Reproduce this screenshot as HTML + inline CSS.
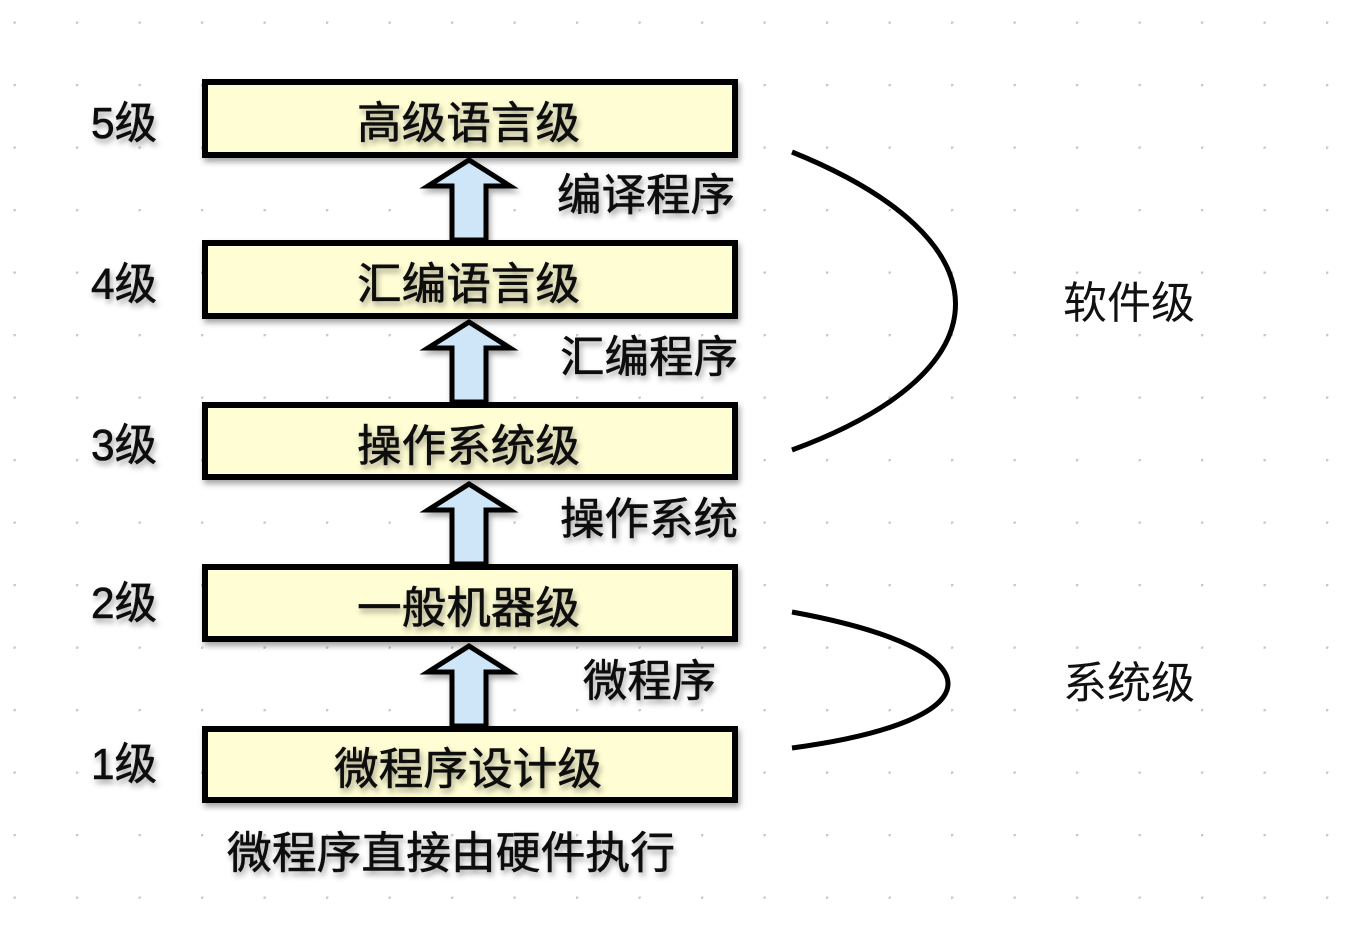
<!DOCTYPE html>
<html><head><meta charset="utf-8"><style>
html,body{margin:0;padding:0;background:#fff;}
svg{display:block;}
text{font-family:"Liberation Sans","Noto Sans CJK SC",sans-serif;}
</style></head><body>
<svg width="1350" height="946" viewBox="0 0 1350 946" xmlns="http://www.w3.org/2000/svg">
<defs>
<pattern id="dots" x="14" y="22" width="62.5" height="62.5" patternUnits="userSpaceOnUse">
<circle cx="0.5" cy="0.5" r="2" fill="#c8c8c8"/>
</pattern>
<filter id="sh" x="-10%" y="-20%" width="130%" height="160%">
<feDropShadow dx="2" dy="4" stdDeviation="3" flood-color="#000" flood-opacity="0.35"/>
</filter>
<g id="arrow">
<path d="M-17,0 L-17,-54 L-41,-54 L0,-80 L41,-54 L17,-54 L17,0 Z" fill="#cfe6f8" stroke="#000" stroke-width="5" stroke-linejoin="miter"/>
</g>
</defs>
<rect x="0" y="0" width="1350" height="946" fill="url(#dots)" transform="translate(-0.5,-0.5)"/>

<g filter="url(#sh)">
<use href="#arrow" x="469" y="240"/>
<use href="#arrow" x="469" y="402"/>
<use href="#arrow" x="469" y="564"/>
<use href="#arrow" x="469" y="726"/>
</g>

<g filter="url(#sh)" fill="#fffdd3" stroke="#000" stroke-width="6">
<rect x="205" y="82" width="530" height="73"/>
<rect x="205" y="243" width="530" height="73"/>
<rect x="205" y="405" width="530" height="72"/>
<rect x="205" y="567" width="530" height="72"/>
<rect x="205" y="729" width="530" height="71"/>
</g>

<g filter="url(#sh)" font-size="44" fill="#111" stroke="#111" stroke-width="0.6">
<text x="357" y="138" textLength="223" lengthAdjust="spacingAndGlyphs">高级语言级</text>
<text x="357" y="299" textLength="223" lengthAdjust="spacingAndGlyphs">汇编语言级</text>
<text x="357" y="461" textLength="223" lengthAdjust="spacingAndGlyphs">操作系统级</text>
<text x="357" y="623" textLength="223" lengthAdjust="spacingAndGlyphs">一般机器级</text>
<text x="334" y="784" textLength="268" lengthAdjust="spacingAndGlyphs">微程序设计级</text>
<text x="91" y="138" textLength="66" lengthAdjust="spacingAndGlyphs">5级</text>
<text x="91" y="299" textLength="66" lengthAdjust="spacingAndGlyphs">4级</text>
<text x="91" y="460" textLength="66" lengthAdjust="spacingAndGlyphs">3级</text>
<text x="91" y="618" textLength="66" lengthAdjust="spacingAndGlyphs">2级</text>
<text x="91" y="779" textLength="66" lengthAdjust="spacingAndGlyphs">1级</text>
<text x="557" y="210" textLength="178" lengthAdjust="spacingAndGlyphs">编译程序</text>
<text x="560" y="372" textLength="178" lengthAdjust="spacingAndGlyphs">汇编程序</text>
<text x="560" y="534" textLength="178" lengthAdjust="spacingAndGlyphs">操作系统</text>
<text x="583" y="696" textLength="133" lengthAdjust="spacingAndGlyphs">微程序</text>
<text x="227" y="868" textLength="448" lengthAdjust="spacingAndGlyphs">微程序直接由硬件执行</text>
</g>

<path d="M792,152 C1010,240 1010,370 792,450" fill="none" stroke="#000" stroke-width="5"/>
<path d="M792,612 C1000,650 1000,720 792,748" fill="none" stroke="#000" stroke-width="5"/>
<g font-size="44" fill="#111">
<text x="1063" y="318" textLength="132" lengthAdjust="spacingAndGlyphs">软件级</text>
<text x="1063" y="698" textLength="132" lengthAdjust="spacingAndGlyphs">系统级</text>
</g>
</svg>
</body></html>
